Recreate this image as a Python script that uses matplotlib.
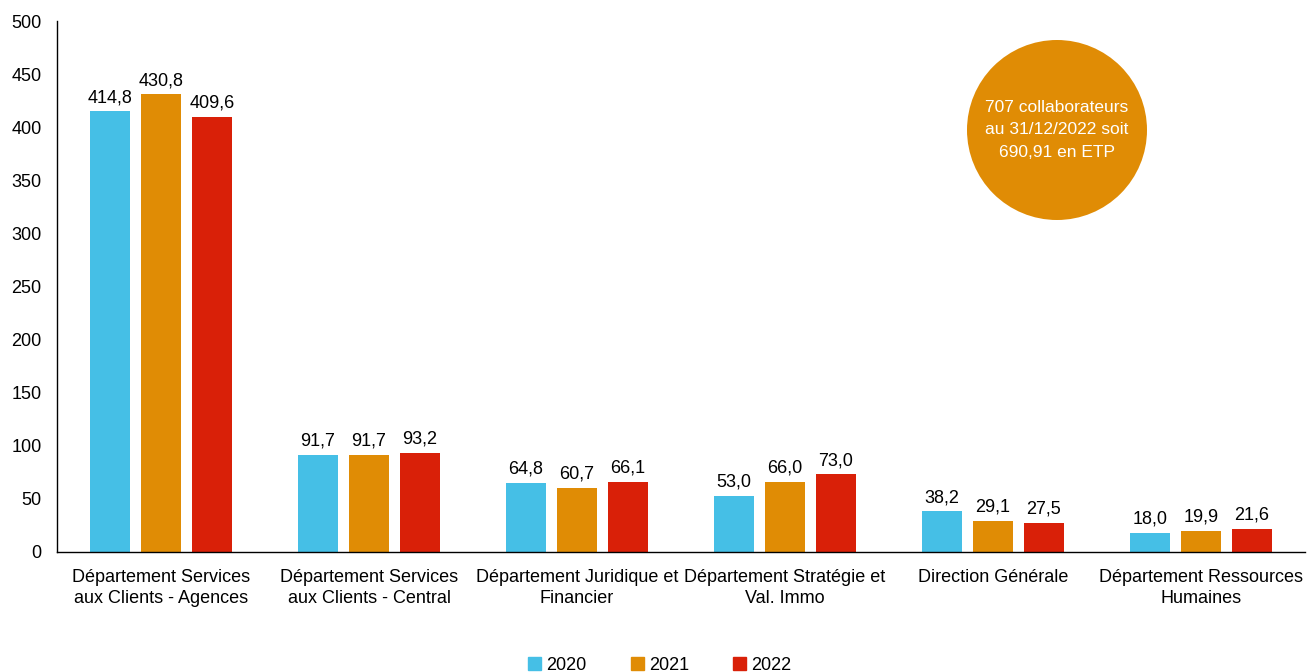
import matplotlib
matplotlib.use("Agg")
import matplotlib.pyplot as plt
import numpy as np
from matplotlib.patches import Ellipse, Patch

plt.rcParams['font.family'] = ['Liberation Sans', 'DejaVu Sans']

categories = ["Département Services\naux Clients - Agences",
              "Département Services\naux Clients - Central",
              "Département Juridique et\nFinancier",
              "Département Stratégie et\nVal. Immo",
              "Direction Générale",
              "Département Ressources\nHumaines"]
years = ["2020", "2021", "2022"]
v2020 = [414.8, 91.7, 64.8, 53.0, 38.2, 18.0]
v2021 = [430.8, 91.7, 60.7, 66.0, 29.1, 19.9]
v2022 = [409.6, 93.2, 66.1, 73.0, 27.5, 21.6]
colors = ["#45BFE6", "#E08C05", "#D92008"]
circle_text = "707 collaborateurs\nau 31/12/2022 soit\n690,91 en ETP"

W, H = 1307, 672
fig = plt.figure(figsize=(W/100, H/100), dpi=100)
ax = fig.add_axes([57/W, 1-552/H, (1305-57)/W, (552-21)/H])

x = np.arange(len(categories))
bw = 0.19
off = 0.245
fs = 13
for i, (vals, c) in enumerate(zip([v2020, v2021, v2022], colors)):
    bars = ax.bar(x + (i-1)*off, vals, width=bw, color=c, label=years[i])
    for b, v in zip(bars, vals):
        ax.text(b.get_x()+b.get_width()/2, v + 5, f"{v:.1f}".replace('.', ','),
                ha='center', va='bottom', fontsize=fs, color='black')

ax.set_xlim(-0.5, len(categories)-0.5)
ax.set_ylim(0, 500)
ax.set_yticks(np.arange(0, 501, 50))
ax.set_xticks(x)
ax.set_xticklabels(categories, fontsize=fs, linespacing=1.3)
ax.tick_params(axis='y', labelsize=fs, length=0, pad=11)
ax.tick_params(axis='x', length=0, pad=12)
for s in ['top', 'right']:
    ax.spines[s].set_visible(False)
for s in ['left', 'bottom']:
    ax.spines[s].set_linewidth(1.0)
    ax.spines[s].set_color('black')

handles = [Patch(color=c, label=y) for c, y in zip(colors, years)]
fig.legend(handles=handles, loc='center', bbox_to_anchor=(660/W, 1-665/H), ncol=3,
           frameon=False, fontsize=fs, handlelength=0.7, handleheight=0.7,
           handletextpad=0.3, columnspacing=2.45)

cx, cy, r = 1057, 130, 90
fig.patches.append(Ellipse((cx/W, 1-cy/H), 2*r/W, 2*r/H, transform=fig.transFigure,
                           facecolor="#E08C05", edgecolor='none', zorder=5))
fig.text(cx/W, 1-cy/H, circle_text, ha='center', va='center', color='white',
         fontsize=12.5, linespacing=1.6, zorder=6)

fig.savefig("out.png", dpi=100)
